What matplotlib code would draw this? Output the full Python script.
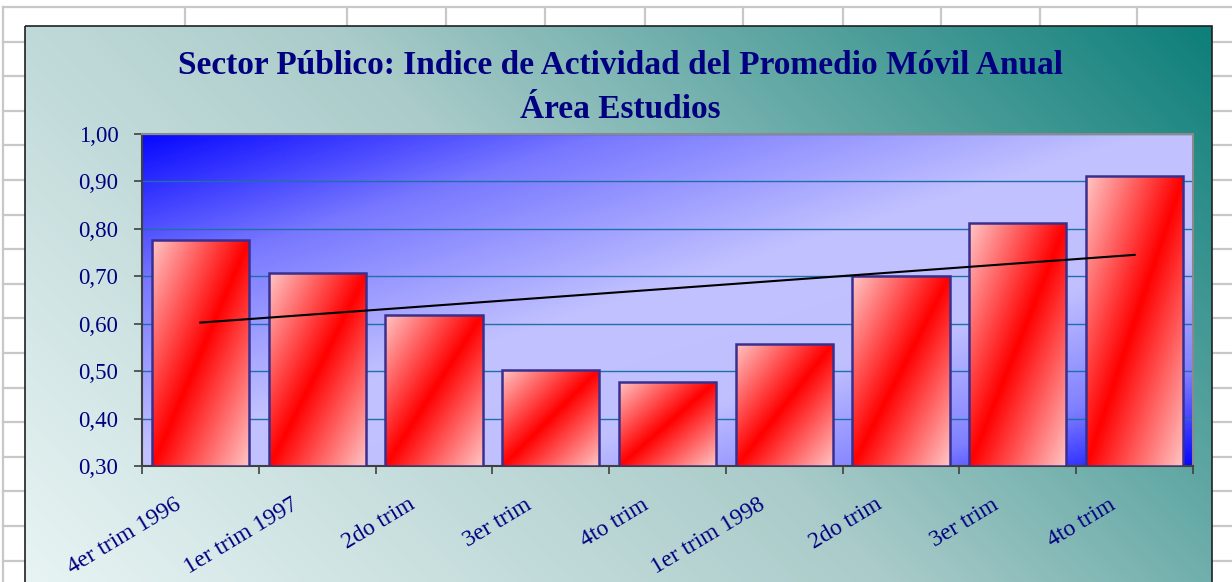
import numpy as np
import matplotlib
matplotlib.use("Agg")
import matplotlib.pyplot as plt
import matplotlib.transforms as mtransforms
from matplotlib.patches import Rectangle
from matplotlib.colors import LinearSegmentedColormap
from matplotlib.ticker import FuncFormatter, MultipleLocator

# ---------------- data ----------------
categories = ["4er trim 1996", "1er trim 1997", "2do trim", "3er trim", "4to trim",
              "1er trim 1998", "2do trim", "3er trim", "4to trim"]
values = [0.777, 0.706, 0.619, 0.503, 0.478, 0.558, 0.700, 0.812, 0.911]
title_lines = ["Sector Público: Indice de Actividad del Promedio Móvil Anual", "Área Estudios"]
y_min, y_max, y_step = 0.30, 1.00, 0.10

# ---------------- style ----------------
W, H, DPI = 1232, 582, 100
navy = "#000080"
serif = ["Liberation Serif", "DejaVu Serif"]

fig = plt.figure(figsize=(W / DPI, H / DPI), dpi=DPI)

# background: spreadsheet grid + chart area
bg = fig.add_axes([0, 0, 1, 1])
bg.set_xlim(0, W)
bg.set_ylim(H, 0)
bg.axis("off")
bg.add_patch(Rectangle((0, 0), W, H, facecolor="white", edgecolor="none", zorder=0))
col_lines = [3, 185, 347, 446, 545, 645, 743, 843, 941, 1040, 1137]
row_lines = [7 + 34.6 * k for k in range(17)]
for x in col_lines:
    bg.plot([x, x], [7, H], color="#c8c8c8", lw=1.6, zorder=1)
for y in row_lines:
    bg.plot([3, W], [y, y], color="#c8c8c8", lw=1.6, zorder=1)

cx0, cx1, cy0, cy1 = 25, 1212, 26, 590
nx, ny = 300, 150
gx = np.linspace(0, cx1 - cx0, nx)[None, :]
gy = np.linspace(0, cy1 - cy0, ny)[:, None]
s = (gx + (cy1 - cy0 - gy)) / ((cx1 - cx0) + (cy1 - cy0))
cmap_bg = LinearSegmentedColormap.from_list("bgc", ["#e8f4f4", "#a9cbc9", "#0e7f7a"])
bg.imshow(s, cmap=cmap_bg, extent=[cx0, cx1, cy1, cy0], aspect="auto", zorder=2,
          interpolation="bilinear", vmin=0, vmax=1)
bg.add_patch(Rectangle((cx0, cy0), cx1 - cx0, cy1 - cy0, facecolor="none",
                       edgecolor="#202020", lw=1.2, zorder=3))

for i, t in enumerate(title_lines):
    bg.text(620, 66 + 44 * i, t, ha="center", va="center", fontsize=24,
            fontweight="bold", color=navy, family=serif, zorder=4)

# plot area
px0, px1, py0, py1 = 142, 1193, 134, 466
ax = fig.add_axes([px0 / W, (H - py1) / H, (px1 - px0) / W, (py1 - py0) / H])
n = len(values)
ax.set_xlim(-0.5, n - 0.5)
ax.set_ylim(y_min, y_max)

# plot area gradient (blue corners top-left / bottom-right, light across the anti-diagonal)
u = np.linspace(0, 1, 300)[None, :]
v = np.linspace(0, 1, 150)[:, None]
sp = (u + v) / 2.0
cmap_pa = LinearSegmentedColormap.from_list(
    "pa", [(0.0, "#0808ff"), (0.22, "#7878ff"), (0.48, "#c2c2ff"), (0.68, "#c0c0ff"),
           (0.86, "#8080ff"), (1.0, "#0808ff")])
ax.imshow(sp, cmap=cmap_pa, extent=[-0.5, n - 0.5, y_min, y_max], origin="upper",
          aspect="auto", zorder=0, interpolation="bilinear", vmin=0, vmax=1)

ax.yaxis.set_major_locator(MultipleLocator(y_step))
ax.grid(axis="y", color="#1f6fa8", lw=1.0, zorder=1)
ax.set_axisbelow(True)

# bars with diagonal gradient
bar_w = 1 / 1.2
x = np.arange(n)
bars = ax.bar(x, np.array(values) - y_min, bottom=y_min, width=bar_w,
              facecolor="none", edgecolor="#3a2f8f", lw=1.8, zorder=4)
cmap_bar = LinearSegmentedColormap.from_list("bar", ["#ffc4c4", "#ff0000", "#ffc4c4"])
bu = np.linspace(0, 1, 60)[None, :]
bv = np.linspace(0, 1, 120)[:, None]
bs = (bu + bv) / 2.0
for r in bars:
    x0, y0 = r.get_x(), r.get_y()
    im = ax.imshow(bs, cmap=cmap_bar, extent=[x0, x0 + r.get_width(), y0, y0 + r.get_height()],
                   origin="upper", aspect="auto", zorder=3, interpolation="bilinear", vmin=0, vmax=1)
    im.set_clip_path(r)

# linear trend line
coef = np.polyfit(x, values, 1)
ax.plot([x[0], x[-1]], np.polyval(coef, [x[0], x[-1]]), color="black", lw=1.5, zorder=5)

# axes styling
for side in ["top", "right"]:
    ax.spines[side].set_color("#8a8a8a")
    ax.spines[side].set_linewidth(1.5)
for side in ["left", "bottom"]:
    ax.spines[side].set_color("#404040")
    ax.spines[side].set_linewidth(1.5)
ax.set_xticks(np.arange(-0.5, n, 1.0))
ax.set_xticklabels([])
ax.tick_params(axis="x", direction="out", length=6, width=1.2, color="#404040")
ax.tick_params(axis="y", direction="out", length=6, width=1.2, color="#404040", pad=11,
               labelsize=16.5, labelcolor=navy)
ax.yaxis.set_major_formatter(FuncFormatter(lambda val, pos: f"{val:.2f}".replace(".", ",")))
for lab in ax.get_yticklabels():
    lab.set_family(serif)

lab_tr = mtransforms.offset_copy(ax.get_xaxis_transform(), fig=fig, x=-21, y=-37, units="dots")
for i, c in enumerate(categories):
    ax.text(i, 0, c, transform=lab_tr, rotation=31, rotation_mode="anchor", ha="right",
            va="center", fontsize=17, color=navy, family=serif)

fig.savefig("out.png", dpi=DPI)
